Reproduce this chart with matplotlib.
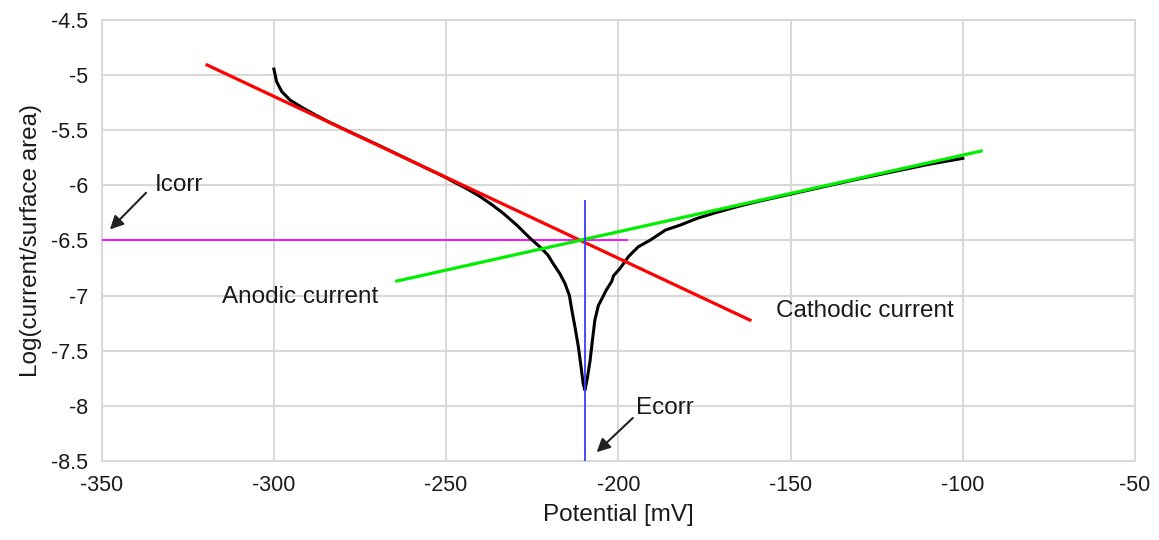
import matplotlib
matplotlib.use("Agg")
import matplotlib.pyplot as plt

plt.rcParams["font.family"] = ["Liberation Sans", "DejaVu Sans"]

# Measured polarization curve: potential (mV) vs log(current/surface area)
potential = [-300, -299.2, -297.7, -295.3, -292, -288, -285, -280, -270, -260,
             -250, -247.9, -244, -240.2, -236.5, -233.4, -229.5, -225.6, -222.7,
             -220.5, -218.9, -217, -215.5, -214.2, -213.5, -212.5, -211.6, -210.8,
             -210.2, -209.7, -209.0, -208.2, -207.5, -206.8, -205.8, -204.8,
             -203.5, -201.9, -201.4, -199.5, -198.5, -197.1, -195.6, -194.2,
             -190.7, -186.3, -182.0, -177.2, -172.4, -165.6, -160, -150, -140,
             -130, -120, -110, -100]
log_current = [-4.945, -5.06, -5.15, -5.226, -5.29, -5.36, -5.41, -5.485,
               -5.63, -5.78, -5.93, -5.967, -6.03, -6.10, -6.18, -6.254, -6.36,
               -6.48, -6.56, -6.63, -6.71, -6.80, -6.889, -7.0, -7.13, -7.30,
               -7.465, -7.65, -7.80, -7.857, -7.75, -7.59, -7.40, -7.22, -7.09,
               -7.03, -6.95, -6.87, -6.82, -6.753, -6.71, -6.648, -6.60, -6.557,
               -6.496, -6.405, -6.36, -6.30, -6.254, -6.194, -6.15, -6.08, -6.01,
               -5.94, -5.875, -5.81, -5.755]

# Tafel fit lines
cathodic_x = [-319.4, -161.8]
cathodic_y = [-4.908, -7.222]
anodic_x = [-264.3, -94.7]
anodic_y = [-6.868, -5.689]

# Corrosion point markers
icorr_x = [-350, -197.5]
icorr_y = [-6.5, -6.5]
ecorr_x = [-209.6, -209.6]
ecorr_y = [-6.14, -8.5]

x_ticks = [-350, -300, -250, -200, -150, -100, -50]
y_ticks = [-8.5, -8, -7.5, -7, -6.5, -6, -5.5, -5, -4.5]
x_tick_labels = ["-350", "-300", "-250", "-200", "-150", "-100", "-50"]
y_tick_labels = ["-8.5", "-8", "-7.5", "-7", "-6.5", "-6", "-5.5", "-5", "-4.5"]

fig = plt.figure(figsize=(11.59, 5.40), dpi=100)
ax = fig.add_axes([0.0877, 0.1463, 0.9793 - 0.0877, 0.963 - 0.1463])

ax.set_xlim(-350, -50)
ax.set_ylim(-8.5, -4.5)
ax.set_xticks(x_ticks)
ax.set_yticks(y_ticks)
ax.set_xticklabels(x_tick_labels)
ax.set_yticklabels(y_tick_labels)
ax.tick_params(length=0, labelsize=15.5, colors="#1a1a1a", pad=10)
ax.grid(True, color="#d9d9d9", lw=1.5)
ax.set_axisbelow(True)
for s in ax.spines.values():
    s.set_color("#d9d9d9")
    s.set_linewidth(1.5)

ax.plot(icorr_x, icorr_y, color="#ff00ff", lw=1.3, zorder=3)
ax.plot(potential, log_current, color="black", lw=2.2, zorder=4,
        solid_joinstyle="round")
ax.plot(cathodic_x, cathodic_y, color="#ff0000", lw=2.3, zorder=5)
ax.plot(anodic_x, anodic_y, color="#00ee00", lw=2.3, zorder=5)
ax.plot(ecorr_x, ecorr_y, color="#3b3bff", lw=1.3, zorder=6)

ax.set_xlabel("Potential [mV]", fontsize=17.5, color="#1a1a1a", labelpad=6)
ax.set_ylabel("Log(current/surface area)", fontsize=17.5, color="#1a1a1a", labelpad=6)

arrow = dict(arrowstyle="-|>", color="#222222", lw=1.5, mutation_scale=20,
             shrinkA=0, shrinkB=0)
ax.text(-334.5, -6.0, "Icorr", fontsize=17.5, color="#1a1a1a", va="center", ha="left")
ax.annotate("", xy=(-347.6, -6.40), xytext=(-337.1, -6.067), arrowprops=arrow)
ax.text(-194.9, -8.02, "Ecorr", fontsize=17.5, color="#1a1a1a", va="center", ha="left")
ax.annotate("", xy=(-206.3, -8.42), xytext=(-195.8, -8.11), arrowprops=arrow)
ax.text(-315.1, -7.01, "Anodic current", fontsize=17.5, color="#1a1a1a", va="center", ha="left")
ax.text(-154.2, -7.14, "Cathodic current", fontsize=17.5, color="#1a1a1a", va="center", ha="left")

fig.savefig("out.png", dpi=100)
